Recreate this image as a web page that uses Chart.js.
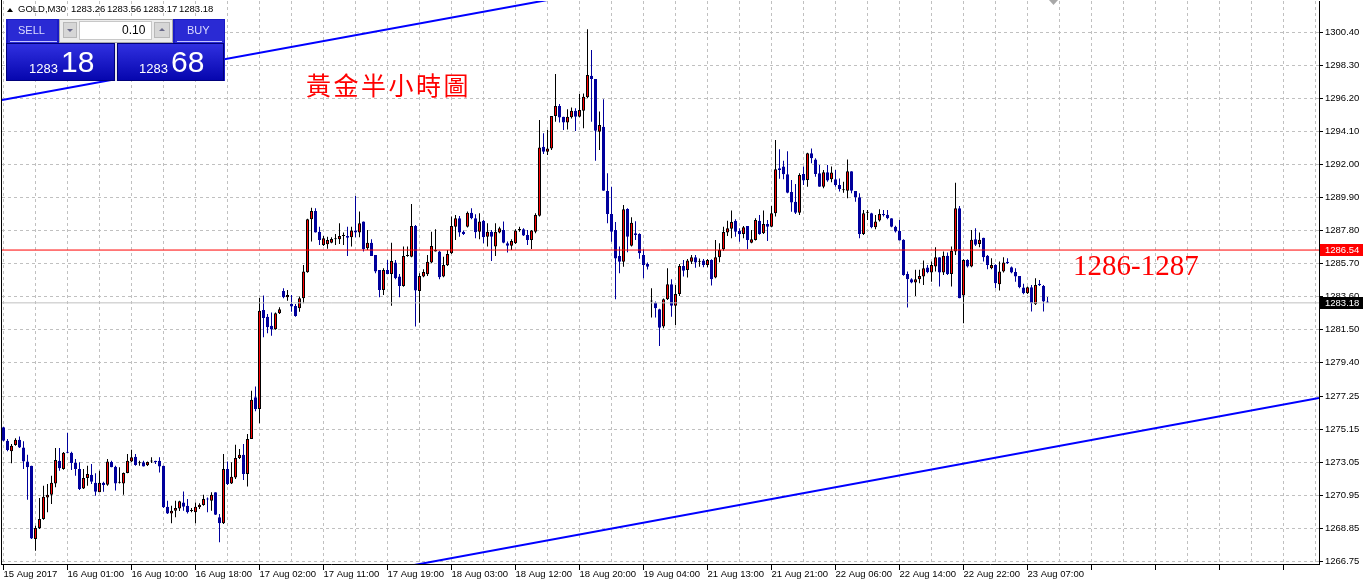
<!DOCTYPE html>
<html>
<head>
<meta charset="utf-8">
<script src="https://cdn.jsdelivr.net/npm/chart.js@4.4.1/dist/chart.umd.min.js"></script>
<style>
html,body{margin:0;padding:0;background:#fff;}
#wrap{position:relative;width:1364px;height:587px;overflow:hidden;background:#fff;}
#c{position:absolute;left:0;top:0;}
.t{position:absolute;white-space:nowrap;}
.hd{top:4px;font:9.5px "Liberation Sans",Arial,sans-serif;line-height:10px;color:#000;}
.box{position:absolute;box-sizing:border-box;}
.ptop{background:#2a2ad4;}
.big{background:linear-gradient(#3030e0,#0606ae);border:1px solid #00007a;}
.wt{color:#fff;font-family:"Liberation Sans",Arial,sans-serif;}
</style>
</head>
<body>
<div id="wrap">
<canvas id="c" width="1364" height="587"></canvas>

<!-- symbol header -->
<div class="box" style="left:7px;top:8px;width:0;height:0;border-left:3px solid transparent;border-right:3px solid transparent;border-bottom:4px solid #000;"></div>
<span class="t hd" style="left:18px">GOLD,M30</span>
<span class="t hd" style="left:71px">1283.26</span>
<span class="t hd" style="left:107px">1283.56</span>
<span class="t hd" style="left:143px">1283.17</span>
<span class="t hd" style="left:179px">1283.18</span>

<!-- one click trading panel -->
<div class="box" style="left:6px;top:19px;width:219px;height:62px;background:#1a1ac6;"></div>
<div class="box ptop" style="left:8px;top:20px;width:49px;height:23px;"></div>
<div class="box" style="left:10px;top:41px;width:47px;height:1px;background:#c4c4ff;"></div>
<span class="t" style="left:18px;top:25px;font:11px 'Liberation Sans',Arial,sans-serif;line-height:11px;color:#dcdcff;">SELL</span>
<div class="box" style="left:59px;top:19px;width:114px;height:24px;background:#ececec;border:1px solid #a8a8a8;"></div>
<div class="box" style="left:63px;top:22px;width:14px;height:16px;background:#d6d6d6;border:1px solid #b8b8b8;"></div>
<div class="box" style="left:67px;top:29px;width:0;height:0;border-left:3px solid transparent;border-right:3px solid transparent;border-top:3px solid #6a6a8a;"></div>
<div class="box" style="left:79px;top:21px;width:73px;height:19px;background:#fff;border:1px solid #c8c8c8;"></div>
<span class="t" style="left:122px;top:24px;font:12px 'Liberation Sans',Arial,sans-serif;line-height:12px;color:#000;">0.10</span>
<div class="box" style="left:154px;top:22px;width:16px;height:16px;background:#d6d6d6;border:1px solid #b8b8b8;"></div>
<div class="box" style="left:159px;top:28px;width:0;height:0;border-left:3px solid transparent;border-right:3px solid transparent;border-bottom:3px solid #6a6a8a;"></div>
<div class="box ptop" style="left:175px;top:20px;width:49px;height:23px;"></div>
<div class="box" style="left:177px;top:41px;width:45px;height:1px;background:#c4c4ff;"></div>
<span class="t" style="left:187px;top:25px;font:11px 'Liberation Sans',Arial,sans-serif;line-height:11px;color:#dcdcff;">BUY</span>
<div class="box" style="left:115px;top:43px;width:2px;height:38px;background:#e8e8e8;"></div>
<div class="box big" style="left:6px;top:43px;width:109px;height:38px;"></div>
<div class="box big" style="left:117px;top:43px;width:107px;height:38px;"></div>
<span class="t wt" style="left:29px;top:62px;font-size:13px;line-height:13px;">1283</span>
<span class="t wt" style="left:61px;top:47px;font-size:30px;line-height:30px;">18</span>
<span class="t wt" style="left:139px;top:62px;font-size:13px;line-height:13px;">1283</span>
<span class="t wt" style="left:171px;top:47px;font-size:30px;line-height:30px;">68</span>

<!-- annotations -->
<span class="t" style="left:306px;top:72px;font-family:'Noto Sans CJK TC','Noto Sans CJK SC',sans-serif;font-size:25px;line-height:25px;letter-spacing:2.5px;color:#ff0000;">黃金半小時圖</span>
<span class="t" style="left:1073px;top:251px;font-family:'Liberation Serif','DejaVu Serif',serif;font-size:29px;line-height:29px;color:#ff0000;">1286-1287</span>
</div>

<script>
// ---------------- data ----------------
const xLabels = ["15 Aug 2017","16 Aug 01:00","16 Aug 10:00","16 Aug 18:00","17 Aug 02:00","17 Aug 11:00","17 Aug 19:00","18 Aug 03:00","18 Aug 12:00","18 Aug 20:00","19 Aug 04:00","21 Aug 13:00","21 Aug 21:00","22 Aug 06:00","22 Aug 14:00","22 Aug 22:00","23 Aug 07:00"];
const yTicks = [1300.40,1298.30,1296.20,1294.10,1292.00,1289.90,1287.80,1285.70,1283.60,1281.50,1279.40,1277.25,1275.15,1273.05,1270.95,1268.85,1266.75];

const opens = [
1275.26,1274.41,1273.73,1274.13,1274.47,1273.98,1273.09,1272.82,1268.15,1268.85,
1269.42,1270.80,1270.97,1271.69,1273.13,1272.60,1273.71,1273.64,1273.01,1272.60,
1271.37,1272.03,1272.24,1271.73,1271.12,1271.73,1271.61,1273.05,1272.75,1271.73,
1271.69,1272.35,1273.09,1273.39,1272.97,1273.03,1272.84,1273.09,1273.13,1273.13,
1272.82,1270.21,1269.78,1269.95,1270.10,1270.48,1270.27,1269.94,1269.85,1270.17,
1270.31,1270.72,1270.59,1271.12,1269.53,1269.15,1272.60,1271.69,1272.07,1273.30,
1273.52,1272.29,1274.52,1277.17,1276.43,1282.73,1282.30,1281.73,1281.50,1282.52,
1283.94,1283.53,1283.11,1282.98,1282.83,1283.47,1285.12,1288.50,1289.03,1287.71,
1286.86,1286.91,1287.01,1287.22,1287.22,1287.44,1287.44,1287.35,1287.78,1287.65,
1288.35,1286.65,1287.01,1286.23,1285.27,1284.00,1285.27,1285.02,1285.74,1284.85,
1284.26,1286.16,1286.12,1288.07,1283.94,1284.85,1285.00,1285.74,1286.44,1286.44,
1284.85,1285.57,1286.33,1288.03,1288.56,1287.71,1288.03,1288.92,1288.56,1287.71,
1288.41,1287.39,1287.71,1286.76,1287.65,1287.82,1286.97,1286.82,1286.97,1287.82,
1287.86,1287.50,1287.18,1287.71,1288.73,1293.12,1292.80,1293.01,1295.07,1295.71,
1295.03,1294.65,1294.99,1295.41,1295.03,1295.41,1296.26,1297.64,1297.43,1294.07,
1294.39,1290.30,1288.84,1287.82,1286.16,1285.80,1289.15,1286.82,1287.61,1287.56,
1286.23,1285.65,1283.26,1283.19,1282.77,1281.67,1283.41,1284.36,1283.00,1283.75,
1285.53,1285.27,1285.80,1286.08,1285.80,1285.87,1285.59,1285.91,1284.79,1286.08,
1286.59,1287.65,1287.90,1288.41,1287.75,1287.56,1288.07,1287.01,1287.18,1288.41,
1287.61,1288.20,1288.03,1288.88,1291.74,1291.85,1291.36,1290.23,1289.62,1288.92,
1291.38,1291.00,1292.70,1292.31,1291.42,1290.57,1291.49,1291.04,1291.04,1290.68,
1290.34,1290.32,1291.55,1290.30,1289.90,1287.56,1288.92,1288.88,1287.99,1288.42,
1288.84,1288.78,1288.56,1288.03,1287.76,1287.19,1285.02,1284.68,1284.47,1284.68,
1284.85,1285.43,1285.11,1285.49,1286.08,1285.11,1286.17,1285.02,1286.44,1289.20,
1283.64,1285.91,1285.49,1287.23,1286.93,1287.33,1286.17,1285.38,1285.59,1284.36,
1285.17,1285.79,1285.45,1285.15,1284.89,1284.15,1283.79,1284.17,1283.09,1284.39,
1284.26,1283.26];
const highs = [
1275.30,1274.51,1274.20,1274.56,1274.68,1274.37,1273.52,1272.82,1269.00,1270.76,
1271.54,1271.65,1272.18,1273.94,1273.94,1273.69,1274.92,1273.71,1273.24,1273.03,
1272.60,1272.82,1272.92,1272.33,1272.50,1271.80,1273.24,1273.13,1272.82,1272.71,
1272.39,1273.56,1273.83,1273.56,1273.13,1273.13,1273.09,1273.35,1273.13,1273.35,
1272.82,1270.59,1270.27,1270.59,1270.59,1271.18,1270.70,1270.12,1270.48,1270.42,
1270.97,1270.80,1271.12,1271.12,1269.74,1273.56,1273.09,1273.03,1274.15,1273.88,
1274.20,1274.83,1277.59,1277.85,1283.49,1283.64,1282.47,1282.56,1282.56,1282.90,
1284.11,1284.00,1283.68,1283.11,1283.58,1285.59,1288.54,1289.24,1289.20,1288.03,
1287.44,1287.39,1287.35,1287.56,1288.24,1287.65,1288.03,1288.03,1289.98,1288.99,
1288.35,1287.82,1287.22,1286.23,1285.27,1285.38,1285.91,1287.01,1285.91,1285.02,
1286.76,1286.76,1289.47,1288.14,1285.06,1285.32,1286.23,1287.71,1287.86,1286.50,
1286.12,1286.55,1288.67,1288.77,1288.71,1287.78,1288.99,1289.20,1288.82,1288.88,
1288.45,1288.24,1287.82,1288.24,1288.03,1288.35,1287.08,1287.22,1287.86,1288.03,
1287.92,1287.82,1287.82,1288.88,1294.82,1293.97,1294.18,1295.07,1297.74,1295.83,
1295.03,1295.50,1295.62,1295.56,1296.47,1296.51,1300.59,1299.27,1297.43,1295.35,
1296.13,1291.42,1290.57,1288.33,1286.76,1289.41,1289.20,1288.62,1288.37,1287.61,
1286.59,1285.74,1284.11,1283.26,1282.81,1283.45,1285.38,1284.68,1284.32,1285.65,
1285.91,1285.97,1286.23,1286.23,1286.01,1285.97,1285.97,1285.95,1287.18,1286.97,
1288.03,1288.41,1289.05,1288.50,1287.92,1288.07,1288.07,1287.82,1288.56,1288.77,
1289.05,1288.45,1289.34,1293.54,1292.95,1292.23,1292.82,1291.00,1290.74,1291.42,
1291.85,1292.74,1293.01,1292.38,1291.95,1291.63,1291.95,1291.85,1291.63,1291.10,
1290.89,1292.31,1291.55,1290.30,1290.15,1289.09,1289.09,1288.92,1288.77,1289.14,
1289.09,1289.09,1288.56,1288.08,1288.46,1287.23,1285.17,1284.75,1285.28,1285.28,
1285.87,1285.59,1285.81,1286.72,1286.08,1286.44,1286.38,1286.76,1290.83,1289.35,
1285.96,1285.96,1287.82,1287.93,1287.65,1287.33,1286.23,1286.02,1285.64,1285.81,
1286.08,1286.02,1285.49,1285.38,1284.89,1284.39,1284.22,1284.32,1284.75,1284.64,
1284.32,1283.56];
const lows = [
1274.37,1273.73,1272.97,1274.09,1273.94,1272.60,1270.65,1268.15,1267.41,1268.79,
1269.38,1269.85,1270.38,1271.44,1272.50,1272.56,1273.62,1272.54,1272.18,1271.27,
1271.33,1271.54,1271.65,1270.91,1271.12,1271.16,1271.54,1272.71,1271.23,1271.69,
1270.97,1272.33,1273.03,1272.82,1272.82,1272.77,1272.80,1272.99,1272.92,1272.39,
1270.12,1269.74,1269.15,1269.53,1269.94,1269.95,1269.78,1269.85,1269.15,1270.06,
1270.27,1269.85,1269.95,1269.68,1267.94,1269.11,1271.59,1271.65,1271.97,1273.24,
1271.91,1271.50,1274.52,1276.28,1275.52,1280.99,1281.24,1281.09,1281.46,1282.47,
1283.47,1283.32,1282.62,1282.30,1282.62,1283.15,1285.10,1287.08,1287.65,1286.86,
1286.80,1286.63,1286.97,1286.86,1286.93,1286.86,1286.16,1286.76,1287.35,1287.35,
1286.44,1286.55,1286.16,1285.06,1283.53,1283.68,1285.00,1283.00,1284.68,1283.53,
1284.21,1286.12,1286.08,1281.67,1281.92,1284.81,1284.89,1285.70,1286.44,1284.68,
1284.81,1285.53,1286.29,1287.18,1287.39,1287.50,1287.97,1288.50,1287.29,1287.22,
1286.97,1286.76,1285.85,1286.16,1287.61,1286.97,1286.38,1286.55,1286.93,1287.71,
1287.44,1286.86,1286.61,1287.61,1288.67,1292.65,1292.59,1292.91,1294.71,1294.65,
1294.18,1294.22,1294.92,1294.12,1294.99,1294.29,1296.20,1294.71,1292.23,1292.91,
1290.32,1288.24,1287.07,1283.41,1285.06,1285.48,1286.40,1286.76,1287.18,1285.99,
1284.74,1285.31,1282.24,1282.24,1280.44,1281.56,1283.36,1282.30,1281.77,1283.62,
1284.85,1284.79,1285.65,1285.42,1285.48,1285.44,1285.44,1284.28,1284.74,1285.76,
1286.50,1287.44,1287.29,1287.39,1287.07,1287.29,1286.59,1286.97,1287.14,1287.52,
1287.56,1287.12,1287.99,1288.67,1291.08,1291.04,1290.15,1288.98,1288.84,1288.77,
1290.68,1290.57,1292.06,1291.21,1290.57,1290.47,1290.89,1290.85,1290.57,1290.26,
1290.19,1289.83,1290.15,1289.62,1287.29,1287.50,1288.45,1287.92,1287.86,1288.35,
1288.67,1288.50,1287.99,1287.65,1287.14,1284.90,1282.88,1284.43,1283.62,1284.43,
1284.32,1285.07,1284.53,1285.17,1284.22,1284.96,1284.96,1284.22,1286.23,1283.47,
1281.88,1285.43,1285.45,1286.80,1286.72,1285.81,1285.32,1285.32,1284.11,1283.96,
1285.11,1285.66,1285.07,1284.53,1284.11,1283.73,1283.75,1282.63,1283.05,1284.26,
1282.63,1283.17];
const closes = [
1274.41,1273.81,1274.09,1274.47,1273.98,1273.09,1272.71,1268.19,1268.85,1269.42,
1270.84,1270.97,1271.73,1273.18,1272.65,1273.64,1273.64,1272.99,1272.60,1271.33,
1272.03,1272.29,1271.80,1271.16,1271.73,1271.59,1273.09,1272.71,1271.69,1271.73,
1272.35,1273.13,1273.35,1272.86,1272.97,1272.77,1273.05,1273.09,1273.03,1272.77,
1270.17,1269.78,1269.95,1270.12,1270.55,1270.21,1269.85,1269.94,1270.21,1270.33,
1270.70,1270.67,1270.97,1269.70,1269.15,1272.60,1271.65,1272.12,1273.30,1273.52,
1272.29,1274.51,1277.02,1276.43,1282.68,1282.22,1281.62,1281.48,1282.52,1282.77,
1283.53,1283.68,1282.94,1282.35,1283.47,1285.17,1288.50,1289.03,1287.65,1287.18,
1287.29,1287.18,1287.25,1287.22,1287.44,1287.44,1287.33,1287.78,1287.65,1288.24,
1286.59,1287.01,1286.16,1285.17,1284.00,1285.27,1285.02,1285.85,1284.74,1284.26,
1286.16,1286.16,1288.07,1283.96,1284.89,1285.15,1285.80,1286.80,1286.55,1284.81,
1285.59,1286.29,1288.07,1288.56,1287.65,1287.56,1288.92,1288.56,1287.67,1288.35,
1287.35,1287.71,1287.39,1287.71,1287.92,1287.01,1286.82,1287.12,1287.78,1287.82,
1287.46,1287.18,1287.78,1288.77,1293.06,1292.80,1293.01,1295.07,1295.71,1294.97,
1294.65,1295.03,1295.41,1295.03,1295.45,1296.30,1297.68,1297.43,1294.14,1294.50,
1290.32,1288.84,1287.71,1286.00,1285.80,1289.13,1287.39,1288.28,1287.50,1286.33,
1285.59,1285.48,1283.26,1282.83,1281.60,1283.41,1284.36,1283.00,1283.75,1285.53,
1285.23,1285.87,1286.08,1285.74,1285.80,1285.59,1285.91,1284.68,1286.08,1286.55,
1287.69,1287.92,1288.33,1287.71,1287.54,1287.99,1287.18,1287.22,1288.45,1287.56,
1288.20,1288.03,1288.88,1291.68,1291.63,1291.36,1290.19,1289.56,1288.92,1291.32,
1290.96,1292.70,1292.38,1291.38,1290.57,1291.49,1290.96,1291.47,1290.68,1290.43,
1290.34,1291.55,1290.32,1289.90,1287.56,1288.88,1288.92,1287.99,1288.35,1288.84,
1288.76,1288.56,1288.03,1287.72,1287.14,1284.96,1284.68,1284.47,1284.68,1284.89,
1285.38,1285.13,1285.59,1286.08,1285.11,1286.17,1285.02,1286.49,1289.20,1283.47,
1285.91,1285.49,1287.19,1286.87,1287.19,1286.08,1285.59,1285.59,1284.43,1285.17,
1285.74,1285.70,1285.11,1284.85,1284.17,1283.79,1284.17,1283.16,1284.32,1284.30,
1283.26,1283.18];

const resistanceLevel = 1286.54;
const bidPrice = closes[closes.length - 1];
// trend lines: [bar index, price] anchors
const upperTrendX = [-0.375, 140];
const upperTrendY = [1296.09, 1302.64];
const lowerTrendX = [100, 328.875];
const lowerTrendY = [1266.37, 1277.12];

// ---------------- chart ----------------
const X_MIN = -0.375, X_MAX = 328.875;
const Y_MIN = 1266.56, Y_MAX = 1302.39;
const BULL_FILL = '#ff0000', BULL_LINE = '#000000', BEAR = '#00009c';

Chart.defaults.font.family = '"Liberation Sans", Arial, sans-serif';
Chart.defaults.font.size = 9.5;
Chart.defaults.color = '#000';

const idx = opens.map((_, i) => i);
const bull = i => closes[i] >= opens[i];
const xTickValues = [];
for (let v = 0; v <= X_MAX; v += 8) xTickValues.push(v);

const overlay = {
  id: 'overlay',
  afterDraw(chart) {
    const {ctx, chartArea: a, scales} = chart;
    const y = scales.y;
    ctx.save();
    // left frame
    ctx.fillStyle = '#000';
    ctx.fillRect(a.left - 1, 0, 1, a.bottom + 1);
    // chart shift marker
    ctx.fillStyle = '#a8a8a8';
    ctx.beginPath();
    ctx.moveTo(1049, 0); ctx.lineTo(1058, 0); ctx.lineTo(1053.5, 5); ctx.closePath(); ctx.fill();
    // price labels on axis
    const box = (val, bg) => {
      const py = y.getPixelForValue(val);
      ctx.fillStyle = bg;
      ctx.fillRect(a.right + 1, Math.round(py) - 6, 43, 12);
      ctx.fillStyle = '#fff';
      ctx.font = '9.5px "Liberation Sans", Arial, sans-serif';
      ctx.textBaseline = 'middle';
      ctx.textAlign = 'left';
      ctx.fillText(val.toFixed(2), a.right + 6, Math.round(py));
    };
    box(resistanceLevel, '#ff0000');
    box(bidPrice, '#000000');
    ctx.restore();
  }
};

new Chart(document.getElementById('c'), {
  type: 'bar',
  data: {
    datasets: [
      {
        type: 'bar', label: 'wick', order: 4, grouped: false,
        data: idx.map(i => ({x: i, y: [lows[i], highs[i]]})),
        backgroundColor: idx.map(i => bull(i) ? BULL_LINE : BEAR),
        borderWidth: 0, barThickness: 1, inflateAmount: 0
      },
      {
        type: 'bar', label: 'body', order: 3, grouped: false,
        data: idx.map(i => ({x: i, y: [opens[i], closes[i]]})),
        backgroundColor: idx.map(i => bull(i) ? BULL_FILL : BEAR),
        borderColor: idx.map(i => bull(i) ? BULL_LINE : BEAR),
        borderWidth: 1, borderSkipped: false, barThickness: 3, minBarLength: 1, inflateAmount: 0
      },
      {
        type: 'line', label: 'bid', order: 2, clip: 0,
        data: [{x: X_MIN, y: bidPrice}, {x: X_MAX, y: bidPrice}],
        borderColor: '#c0c0c0', borderWidth: 1, pointRadius: 0, fill: false
      },
      {
        type: 'line', label: 'level', order: 1, clip: 0,
        data: [{x: X_MIN, y: resistanceLevel}, {x: X_MAX, y: resistanceLevel}],
        borderColor: '#ff0000', borderWidth: 1, pointRadius: 0, fill: false
      },
      {
        type: 'line', label: 'upper', order: 0, clip: 0,
        data: upperTrendX.map((x, k) => ({x, y: upperTrendY[k]})),
        borderColor: '#0000ff', borderWidth: 2, pointRadius: 0, fill: false
      },
      {
        type: 'line', label: 'lower', order: 0, clip: 0,
        data: lowerTrendX.map((x, k) => ({x, y: lowerTrendY[k]})),
        borderColor: '#0000ff', borderWidth: 2, pointRadius: 0, fill: false
      }
    ]
  },
  options: {
    responsive: false,
    animation: false,
    devicePixelRatio: 1,
    events: [],
    layout: {padding: {left: 2, top: 1, right: 0, bottom: 0}},
    plugins: {legend: {display: false}, tooltip: {enabled: false}, title: {display: false}},
    scales: {
      x: {
        type: 'linear', position: 'bottom', min: X_MIN, max: X_MAX, offset: false,
        afterBuildTicks: s => { s.ticks = xTickValues.map(v => ({value: v})); },
        afterFit: s => { s.height = 23; s.paddingLeft = 0; s.paddingRight = 0; },
        grid: {
          offset: false, color: '#c0c0c0', lineWidth: 1, drawTicks: true, tickLength: 6,
          tickColor: c => (c.tick && c.tick.value % 16 === 0) ? '#000' : 'rgba(0,0,0,0)',
          tickBorderDash: []
        },
        border: {display: true, color: '#000', width: 1, dash: [3, 3]},
        ticks: {
          autoSkip: false, maxRotation: 0, minRotation: 0, align: 'start', padding: -1,
          callback: v => (v % 16 === 0 && xLabels[v / 16] !== undefined) ? xLabels[v / 16] : ''
        }
      },
      y: {
        type: 'linear', position: 'right', min: Y_MIN, max: Y_MAX, beginAtZero: false,
        afterBuildTicks: s => { s.ticks = yTicks.map(v => ({value: v})); },
        afterFit: s => { s.width = 45; s.paddingTop = 0; s.paddingBottom = 0; },
        grid: {color: '#c0c0c0', lineWidth: 1, tickLength: 4, tickColor: '#000', tickBorderDash: []},
        border: {display: true, color: '#000', width: 1, dash: [3, 3]},
        ticks: {autoSkip: false, padding: 2, callback: v => v.toFixed(2)}
      }
    }
  },
  plugins: [overlay]
});
</script>
</body>
</html>
